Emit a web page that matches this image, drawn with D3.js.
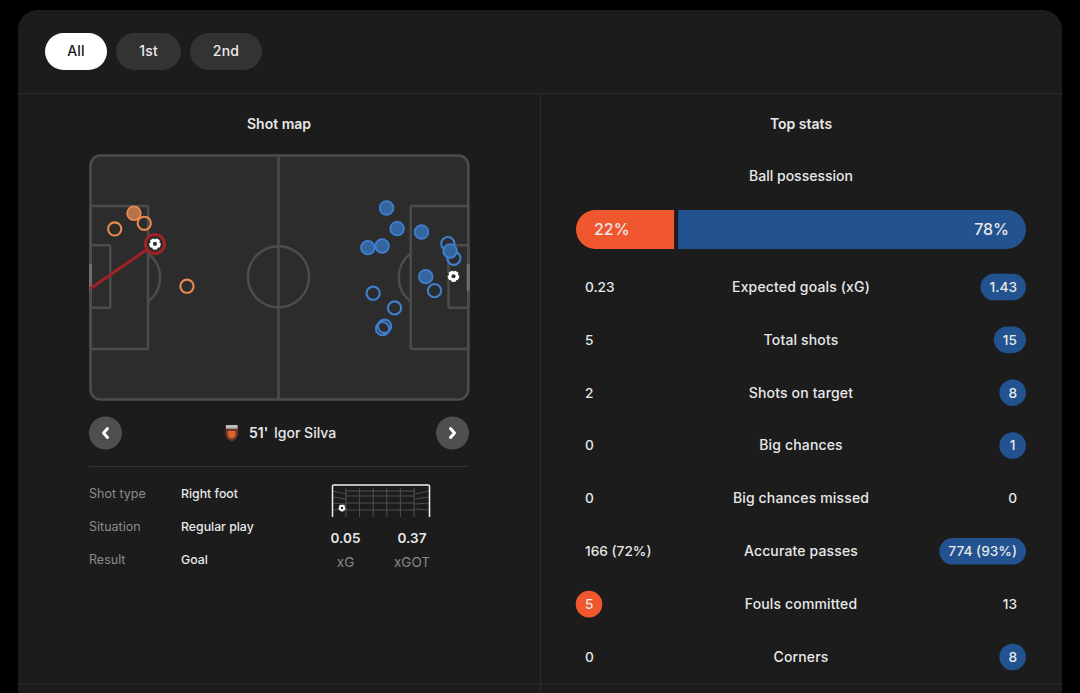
<!DOCTYPE html>
<html><head><meta charset="utf-8">
<script src="https://cdn.jsdelivr.net/npm/d3@7"></script>
<style>
html,body{margin:0;padding:0;background:#000;overflow:hidden}
svg{display:block}
text{font-family:Inter,"Noto Sans",sans-serif;font-weight:500;fill:#e8e8e8;font-size:14px}
</style></head><body>
<svg id="c" width="1080" height="693"></svg>
<script>
// ---- data ----
const periods = ["All","1st","2nd"];
const statNames = ["Expected goals (xG)","Total shots","Shots on target","Big chances","Big chances missed","Accurate passes","Fouls committed","Corners"];
const homeValues = ["0.23","5","2","0","0","166 (72%)","5","0"];
const awayValues = ["1.43","15","8","1","0","774 (93%)","13","8"];
const statLeader = ["away","away","away","away","none","away","home","away"];
const possession = [22,78];
// shot positions in pitch metres [x, y]
const homeOnTarget = [[12.08,16.1]];
const homeOffTarget = [[14.94,18.89],[6.72,20.47],[26.81,36.43]];
const homeGoal = [17.92,24.65];
const homeGoalEnd = [-0.2,37.2];
const awayOnTarget = [[82.28,14.62],[85.22,20.39],[92.0,21.31],[77.08,25.68],[81.06,25.21],[93.19,33.76],[99.94,26.6]];
const awayOffTarget = [[99.31,24.57],[100.97,28.63],[95.61,37.66],[78.56,38.38],[84.5,42.48],[81.72,47.58],[81.17,48.25]];
const awayGoal = [100.89,33.65];
const shotDetailLabels = ["Shot type","Situation","Result"];
const shotDetailValues = ["Right foot","Regular play","Goal"];
const xgLabels = ["xG","xGOT"];
const xgValues = ["0.05","0.37"];

const svg = d3.select("#c");
const HOME="#f0572f", AWAY="#22528f";

// card
svg.append("rect").attr("x",18).attr("y",10).attr("width",1044).attr("height",720).attr("rx",20).attr("fill","#1c1c1c");
const rule="#2b2b2b";
[[18,93.5,1062,93.5],[540.5,93,540.5,693],[18,684,1062,684],[89,466.5,469,466.5]].forEach(d=>
  svg.append("line").attr("x1",d[0]).attr("y1",d[1]).attr("x2",d[2]).attr("y2",d[3]).attr("stroke",d[3]===466.5?"#333":rule).attr("stroke-width",1));

// period pills
const pillX=[45,116,190], pillW=[62,65,72];
const pills=svg.append("g").selectAll("g").data(periods).join("g");
pills.append("rect").attr("x",(d,i)=>pillX[i]).attr("y",33).attr("width",(d,i)=>pillW[i]).attr("height",37).attr("rx",18.5)
  .attr("fill",(d,i)=>i===0?"#fff":"#333");
pills.append("text").attr("x",(d,i)=>pillX[i]+pillW[i]/2).attr("y",56).attr("text-anchor","middle")
  .style("font-weight",500).style("font-size","14px").style("letter-spacing","0.2px").style("fill",(d,i)=>i===0?"#1a1a1a":"#ececec").text(d=>d);

const title=(t,x,y)=>svg.append("text").attr("x",x).attr("y",y).attr("text-anchor","middle").style("font-weight",600).text(t);
title("Shot map",279,129);
title("Top stats",801,129);

// pitch
const px=d3.scaleLinear().domain([0,105]).range([90.5,468.3]);
const py=d3.scaleLinear().domain([0,68]).range([155.5,399.5]);
const halfway=52.25;
const line="#4c4c4c";
const pitch=svg.append("g");
pitch.append("rect").attr("x",px(0)).attr("y",py(0)).attr("width",px(105)-px(0)).attr("height",py(68)-py(0)).attr("rx",10)
  .attr("fill","#2c2c2c").attr("stroke",line).attr("stroke-width",2.5);
const mark=s=>s.attr("fill","none").attr("stroke",line).attr("stroke-width",2.5);
pitch.append("line").attr("x1",px(halfway)).attr("x2",px(halfway)).attr("y1",py(0)).attr("y2",py(68)).call(mark);
pitch.append("circle").attr("cx",px(halfway)).attr("cy",py(33.8)).attr("r",px(8.5)-px(0)).call(mark);
const rr=(x0,x1,y0,y1)=>pitch.append("rect").attr("x",px(x0)).attr("width",px(x1)-px(x0)).attr("y",py(y0)).attr("height",py(y1)-py(y0)).attr("rx",1.5).call(mark);
rr(0,16,14.1,53.9); rr(0,5.5,25,42.4); rr(89,105,14.1,53.9); rr(99.5,105,25,42.4);
// penalty arcs
const ar=d3.arc().innerRadius(30).outerRadius(30);
const arcA=Math.acos(18/30);
pitch.append("path").attr("d",ar({startAngle:Math.PI/2-arcA,endAngle:Math.PI/2+arcA})).attr("transform",`translate(${px(11)},${py(34)})`).call(mark);
pitch.append("path").attr("d",ar({startAngle:-Math.PI/2-arcA,endAngle:-Math.PI/2+arcA})).attr("transform",`translate(${px(94)},${py(34)})`).call(mark);
// goals
[[px(0)-1.5],[px(105)-1.5]].forEach(d=>pitch.append("rect").attr("x",d[0]).attr("y",py(30.2)).attr("width",3).attr("height",py(37.6)-py(30.2)).attr("fill","#6e6e6e"));

// shots
const shots=svg.append("g");
const colH="#e8894f", colA="#3f7fd0";
shots.selectAll(".ho").data(homeOffTarget).join("circle").attr("cx",d=>px(d[0])).attr("cy",d=>py(d[1])).attr("r",6.6).attr("fill","none").attr("stroke",colH).attr("stroke-width",2.1);
shots.selectAll(".hf").data(homeOnTarget).join("circle").attr("cx",d=>px(d[0])).attr("cy",d=>py(d[1])).attr("r",6.8).attr("fill","#b9714a").attr("stroke",colH).attr("stroke-width",1.8);
shots.selectAll(".ao").data(awayOffTarget).join("circle").attr("cx",d=>px(d[0])).attr("cy",d=>py(d[1])).attr("r",6.6).attr("fill","none").attr("stroke",colA).attr("stroke-width",2.1);
shots.selectAll(".af").data(awayOnTarget).join("circle").attr("cx",d=>px(d[0])).attr("cy",d=>py(d[1])).attr("r",6.8).attr("fill","#33659f").attr("stroke",colA).attr("stroke-width",1.8);

function ball(g,x,y,r){
  g.append("circle").attr("cx",x).attr("cy",y).attr("r",r).attr("fill","#fff");
  g.append("circle").attr("cx",x).attr("cy",y).attr("r",r*0.36).attr("fill","#333");
  d3.range(5).forEach(i=>{const a=i*2*Math.PI/5-Math.PI/2;
    g.append("circle").attr("cx",x+Math.cos(a)*r).attr("cy",y+Math.sin(a)*r).attr("r",r*0.18).attr("fill","#2c2c2c");});
}
shots.append("line").attr("x1",px(homeGoalEnd[0])).attr("y1",py(homeGoalEnd[1])).attr("x2",px(homeGoal[0])).attr("y2",py(homeGoal[1])).attr("stroke","#a02226").attr("stroke-width",3);
shots.append("circle").attr("cx",px(homeGoal[0])).attr("cy",py(homeGoal[1])).attr("r",9.5).attr("fill","#2c2c2c").attr("stroke","#a02226").attr("stroke-width",3);
ball(shots,px(homeGoal[0]),py(homeGoal[1]),5.8);
ball(shots,px(awayGoal[0]),py(awayGoal[1]),5.8);

// navigation
[[105.5,-1],[452.5,1]].forEach(d=>{
  svg.append("circle").attr("cx",d[0]).attr("cy",433).attr("r",16.5).attr("fill","#4f4f4f");
  svg.append("path").attr("d",`M${d[0]-d[1]*2},428.5 L${d[0]+d[1]*2},433 L${d[0]-d[1]*2},437.5`).attr("fill","none").attr("stroke","#fff").attr("stroke-width",3).attr("stroke-linecap","round").attr("stroke-linejoin","round");
});
// crest
svg.append("path").attr("d","M225.5,425.5 H238 V434 Q238,439 231.7,441.5 Q225.5,439 225.5,434 Z").attr("fill","#6b3a28");
svg.append("rect").attr("x",226).attr("y",425).attr("width",11.5).attr("height",3.6).attr("fill","#bdbdbd");
svg.append("path").attr("d","M228,431 H235.5 V434.5 Q235.5,437 231.7,438.5 Q228,437 228,434.5 Z").attr("fill","#e0622e");
svg.append("text").attr("x",249).attr("y",438).style("font-weight",600).style("font-size","14px").text("51'");
svg.append("text").attr("x",274).attr("y",438).style("font-size","14px").text("Igor Silva");

// details
const rowY=d3.scalePoint().domain(shotDetailLabels).range([498,564]);
shotDetailLabels.forEach((l,i)=>{
  svg.append("text").attr("x",89).attr("y",rowY(l)).style("fill","#8b8b8b").style("font-size","12.5px").style("font-weight",400).text(l);
  svg.append("text").attr("x",181).attr("y",rowY(l)).style("font-size","12.3px").text(shotDetailValues[i]);
});
// goal frame
const net=svg.append("g").attr("stroke","#555").attr("stroke-width",0.9).attr("fill","none");
d3.range(6).forEach(i=>{const x=346+i*13.6; net.append("line").attr("x1",x).attr("x2",x).attr("y1",488).attr("y2",517);});
[491,496,503,510].forEach(y=>{net.append("line").attr("x1",346).attr("x2",415).attr("y1",y).attr("y2",y);});
[[333,491,346,494],[333,497,346,499],[333,503,346,504],[333,510,346,509],[429,491,415,494],[429,497,415,499],[429,503,415,504],[429,510,415,509]].forEach(d=>
  net.append("line").attr("x1",d[0]).attr("y1",d[1]).attr("x2",d[2]).attr("y2",d[3]));
svg.append("path").attr("d","M332.5,517 V486 Q332.5,485 334,485 H428 Q429.5,485 429.5,486 V517").attr("fill","none").attr("stroke","#f0f0f0").attr("stroke-width",1.5);
ball(svg,342,508,3.4);
[345.5,412].forEach((x,i)=>{
  svg.append("text").attr("x",x).attr("y",543).attr("text-anchor","middle").style("font-weight",600).style("font-size","13.5px").text(xgValues[i]);
  svg.append("text").attr("x",x).attr("y",567).attr("text-anchor","middle").style("fill","#888").style("font-size","13.5px").style("font-weight",400).text(xgLabels[i]);
});

// possession
title("Ball possession",801,181).style("font-weight",500);
const pw=d3.scaleLinear().domain([0,100]).range([0,446]);
const bx=576,by=210,bh=39,r=19.5;
const w0=pw(possession[0]),w1=pw(possession[1]);
svg.append("path").attr("d",`M${bx+w0},${by} H${bx+r} A${r},${r} 0 0 0 ${bx+r},${by+bh} H${bx+w0} Z`).attr("fill",HOME);
const b1=bx+w0+4;
svg.append("path").attr("d",`M${b1},${by} H${b1+w1-r} A${r},${r} 0 0 1 ${b1+w1-r},${by+bh} H${b1} Z`).attr("fill",AWAY);
svg.append("text").attr("x",594).attr("y",235).style("font-size","16px").text(possession[0]+"%");
svg.append("text").attr("x",1009).attr("y",235).attr("text-anchor","end").style("font-size","16px").text(possession[1]+"%");

// stat rows
const statY=d3.scalePoint().domain(statNames).range([287,657]);
statNames.forEach((n,i)=>{
  const y=statY(n), g=svg.append("g");
  g.append("text").attr("x",801).attr("y",y+4.8).attr("text-anchor","middle").style("letter-spacing","0.15px").text(n);
  if(statLeader[i]==="home"){
    g.append("circle").attr("cx",589).attr("cy",y).attr("r",13.3).attr("fill",HOME);
  }
  g.append("text").attr("x",585).attr("y",y+4.8).style("font-size","13.7px").text(homeValues[i]);
  const t=g.append("text").attr("x",1017).attr("y",y+4.8).attr("text-anchor","end").style("font-size","13.7px").text(awayValues[i]);
  if(statLeader[i]==="away"){
    const tw=t.node().getComputedTextLength();
    const w=Math.max(26.6,tw+18);
    g.insert("rect","text:last-of-type").attr("x",1026-w).attr("y",y-13.3).attr("width",w).attr("height",26.6).attr("rx",13.3).attr("fill",AWAY);
    t.attr("text-anchor","middle").attr("x",1026-w/2);
  }
});
</script>
</body></html>
